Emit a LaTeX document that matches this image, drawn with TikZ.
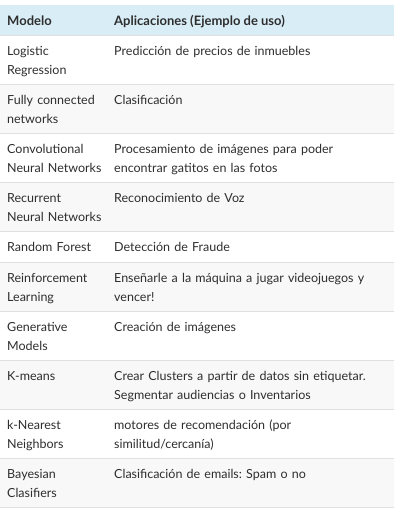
\documentclass[tikz,border=0pt]{standalone}
\usepackage{fontspec}
\setmainfont{Lato}
\frenchspacing
\definecolor{headblue}{HTML}{D9EDF7}
\definecolor{zebra}{HTML}{F8F8F8}
\definecolor{rulegray}{HTML}{E0E0E0}
\definecolor{ink}{HTML}{2E2E2E}
\tikzset{
  cell/.style={anchor=base west,inner sep=0pt,text=ink,align=left,
    font=\fontsize{12.5}{19}\selectfont},
  head/.style={cell,font=\fontsize{13}{19}\selectfont\bfseries},
  modelcol/.style={cell,text width=100pt},
  usecol/.style={cell,text width=278pt}
}
\begin{document}
\begin{tikzpicture}[x=1pt,y=-1pt]
  \useasboundingbox (0,0) rectangle (401,509);

  % background bands
  \fill[headblue] (0,5) rectangle (394,35);
  \foreach \a/\b in {84/133,182/231,262/311,360/409,458/507}
    \fill[zebra] (0,\a) rectangle (394,\b);
  \foreach \y in {35,84,133,182,231,262,311,360,409,458,507}
    \draw[rulegray,line width=1pt] (0,\y) -- (394,\y);

  \node[head] (h1) at (7,25) {Modelo};
  \node[head] (h2) at (114,25) {Aplicaciones (Ejemplo de uso)};

  \begin{scope}[every node/.style={modelcol}]
    \node (m1)  at (7,55.5)  {Logistic\\Regression};
    \node (m2)  at (7,104.5) {Fully connected\\networks};
    \node (m3)  at (7,153.5) {Convolutional\\Neural Networks};
    \node (m4)  at (7,202.5) {Recurrent\\Neural Networks};
    \node (m5)  at (7,251.5) {Random Forest};
    \node (m6)  at (7,282.5) {Reinforcement\\Learning};
    \node (m7)  at (7,331.5) {Generative\\Models};
    \node (m8)  at (7,380.5) {K-means};
    \node (m9)  at (7,429.5) {k-Nearest\\Neighbors};
    \node (m10) at (7,478.5) {Bayesian\\Clasifiers};
  \end{scope}

  \begin{scope}[every node/.style={usecol}]
    \node (u1)  at (114,55.5)  {Predicción de precios de inmuebles};
    \node (u2)  at (114,104.5) {Clasificación};
    \node (u3)  at (114,153.5) {Procesamiento de imágenes para poder\\encontrar gatitos en las fotos};
    \node (u4)  at (114,202.5) {Reconocimiento de Voz};
    \node (u5)  at (114,251.5) {Detección de Fraude};
    \node (u6)  at (114,282.5) {Enseñarle a la máquina a jugar videojuegos y\\vencer!};
    \node (u7)  at (114,331.5) {Creación de imágenes};
    \node (u8)  at (114,380.5) {Crear Clusters a partir de datos sin etiquetar.\\Segmentar audiencias o Inventarios};
    \node (u9)  at (114,429.5) {motores de recomendación (por\\similitud/cercanía)};
    \node (u10) at (114,478.5) {Clasificación de emails: Spam o no};
  \end{scope}

\end{tikzpicture}
\end{document}
